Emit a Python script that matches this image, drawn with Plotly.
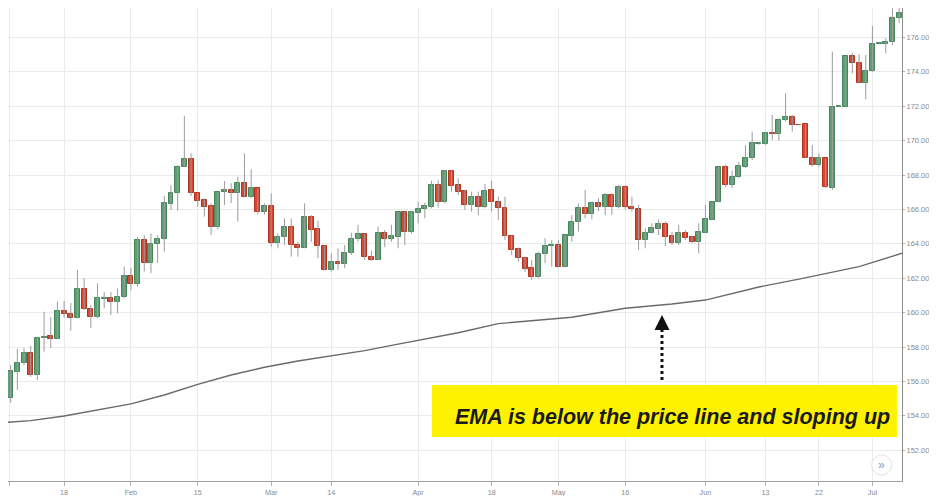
import plotly.graph_objects as go

# daily candles (price units)
OPEN = [155.40, 155.03, 156.56, 157.05, 157.67, 156.37, 158.50, 158.64, 158.48, 160.10,
        159.90, 159.67, 161.35, 160.20, 159.73, 160.80, 160.83, 160.60, 160.93, 162.10,
        161.65, 164.22, 162.90, 164.00, 164.26, 166.30, 166.93, 168.49, 168.91, 166.97,
        166.55, 166.20, 165.00, 167.04, 167.10, 166.97, 167.55, 166.70, 167.23, 165.87,
        166.20, 164.03, 164.41, 165.00, 163.93, 163.74, 165.54, 164.84, 163.87, 162.48,
        162.96, 162.83, 163.48, 164.26, 164.57, 163.25, 163.06, 164.61, 164.26, 164.38,
        165.87, 164.70, 165.82, 166.00, 166.16, 167.42, 166.45, 168.25, 167.42, 167.09,
        166.26, 166.70, 166.12, 167.13, 166.45, 166.06, 164.45, 163.68, 163.20, 162.58,
        162.06, 163.41, 163.87, 163.93, 162.63, 164.45, 165.29, 166.06, 165.73, 166.35,
        166.16, 166.84, 166.16, 167.32, 166.16, 166.00, 164.22, 164.65, 164.84, 165.16,
        164.45, 164.03, 164.65, 164.38, 164.12, 164.65, 165.38, 166.45, 168.45, 167.42,
        167.90, 168.49, 168.97, 169.80, 169.80, 170.46, 170.37, 171.20, 171.39, 170.93,
        170.97, 168.97, 168.58, 168.97, 167.23, 171.97, 171.97, 174.92, 174.50, 173.37,
        174.07, 175.62, 175.62, 175.75, 177.11]
HIGH = [155.70, 156.95, 157.90, 157.94, 158.06, 158.60, 160.05, 159.74, 160.63, 160.67,
        160.56, 162.47, 162.00, 160.44, 161.70, 161.20, 161.20, 161.40, 162.67, 162.60,
        164.40, 164.50, 164.60, 164.50, 166.78, 167.40, 168.58, 171.43, 169.26, 166.97,
        166.65, 166.35, 167.03, 167.65, 167.52, 167.90, 169.26, 168.33, 167.23, 166.35,
        166.93, 164.60, 165.48, 165.48, 164.12, 166.35, 165.67, 165.34, 163.90, 163.45,
        163.74, 163.93, 164.65, 165.10, 164.60, 163.60, 165.00, 164.80, 165.10, 165.87,
        165.90, 165.90, 166.45, 166.39, 167.67, 167.70, 168.29, 168.29, 167.81, 167.13,
        167.03, 167.03, 167.48, 167.67, 166.74, 166.74, 164.50, 163.80, 163.25, 163.06,
        163.54, 164.32, 164.22, 164.22, 164.51, 165.67, 166.35, 167.13, 166.45, 166.65,
        166.94, 166.94, 167.42, 167.42, 166.74, 166.26, 164.90, 165.19, 165.42, 165.29,
        164.70, 165.10, 164.80, 164.45, 165.19, 166.26, 166.45, 168.49, 168.60, 168.25,
        168.77, 169.74, 170.52, 169.90, 170.52, 171.49, 171.30, 172.75, 171.49, 170.95,
        170.97, 169.74, 169.26, 168.97, 175.17, 172.02, 174.92, 175.11, 175.03, 174.98,
        176.66, 175.72, 175.95, 177.69, 178.30]
LOW = [154.70, 154.75, 155.50, 156.95, 156.27, 156.08, 157.73, 157.94, 158.47, 159.70,
       158.95, 159.67, 160.15, 159.10, 159.67, 160.25, 159.86, 159.96, 160.83, 161.30,
       161.50, 162.40, 162.30, 162.90, 163.54, 165.97, 165.93, 168.45, 166.78, 166.16,
       165.58, 164.51, 164.84, 166.26, 166.36, 165.29, 166.70, 166.65, 165.70, 165.70,
       163.83, 163.74, 163.93, 163.25, 163.25, 163.74, 164.12, 163.16, 162.45, 162.38,
       162.48, 162.58, 163.35, 164.12, 163.06, 163.02, 163.06, 163.80, 164.12, 163.74,
       163.93, 164.60, 165.19, 165.48, 166.06, 166.10, 166.35, 167.03, 166.84, 165.97,
       165.87, 165.67, 166.06, 165.87, 165.38, 164.22, 163.35, 162.96, 162.36, 161.90,
       162.00, 162.87, 162.67, 162.63, 162.63, 164.12, 164.71, 165.48, 165.42, 165.90,
       165.67, 165.67, 166.06, 166.00, 165.87, 163.64, 163.74, 164.61, 164.51, 163.87,
       163.93, 163.93, 164.22, 164.03, 163.45, 164.61, 165.38, 166.40, 167.30, 167.23,
       167.81, 168.40, 168.87, 169.76, 169.74, 170.03, 170.00, 171.10, 170.52, 170.88,
       168.97, 168.49, 168.49, 167.23, 167.13, 171.95, 171.97, 173.91, 173.33, 172.40,
       174.00, 175.60, 175.07, 175.56, 176.82]
CLOSE = [155.03, 156.60, 157.05, 157.67, 156.37, 158.50, 158.60, 158.48, 160.10, 159.90,
         159.67, 161.35, 160.20, 159.73, 160.83, 160.86, 160.60, 160.93, 162.10, 161.65,
         164.22, 162.90, 164.00, 164.30, 166.35, 166.93, 168.49, 168.91, 166.94, 166.50,
         166.16, 165.00, 167.03, 167.10, 166.97, 167.55, 166.70, 167.23, 165.87, 166.20,
         164.03, 164.41, 165.00, 163.93, 163.74, 165.54, 164.81, 163.87, 162.48, 162.96,
         162.83, 163.48, 164.30, 164.57, 163.22, 163.06, 164.61, 164.26, 164.45, 165.87,
         164.70, 165.87, 166.00, 166.20, 167.42, 166.45, 168.25, 167.36, 167.03, 166.26,
         166.70, 166.12, 167.09, 166.45, 166.06, 164.45, 163.64, 163.16, 162.53, 162.06,
         163.41, 163.87, 163.93, 162.63, 164.51, 165.29, 166.06, 165.73, 166.35, 166.16,
         166.84, 166.16, 167.32, 166.12, 166.00, 164.22, 164.65, 164.94, 165.16, 164.41,
         164.03, 164.65, 164.32, 164.12, 164.70, 165.42, 166.45, 168.49, 167.42, 167.90,
         168.54, 169.00, 169.84, 169.87, 170.46, 170.37, 171.20, 171.39, 170.90, 170.90,
         168.97, 168.58, 168.97, 167.32, 171.97, 172.00, 174.92, 174.50, 173.37, 174.07,
         175.62, 175.70, 175.75, 177.11, 177.44]

# EMA read at a few candle positions along the line
EMA_IDX = [-1, 4, 9, 14, 19, 24, 29, 34, 39, 44, 49, 54, 59, 64, 68, 74, 80, 85, 93,
           100, 105, 113, 119, 128, 135]
EMA_VAL = [153.58, 153.72, 153.99, 154.34, 154.69, 155.21, 155.83, 156.37, 156.82, 157.19,
           157.48, 157.79, 158.17, 158.56, 158.83, 159.36, 159.58, 159.73, 160.25, 160.50,
           160.73, 161.49, 161.95, 162.67, 163.52]

TICK_IDX = [0.8, 9, 19, 29, 40, 49, 62, 73, 83, 93, 105, 114, 122, 130]
TICK_TEXT = ["16", "18", "Feb", "15", "Mar", "14", "Apr", "18", "May", "16", "Jun", "13", "22", "Jul"]
PRICE_TICKS = [152, 154, 156, 158, 160, 162, 164, 166, 168, 170, 172, 174, 176, 178]

NOTE = "EMA is below the price line and sloping up"
ARROW_IDX = 98.5
ARROW_FROM = 156.08
ARROW_TO = 159.86

GREEN, GREEN_EDGE = "#5c9f74", "#44855a"
RED, RED_EDGE = "#da4631", "#b0341f"

idx = list(range(len(OPEN)))
rising = [c >= o for o, c in zip(OPEN, CLOSE)]

# wicks drawn as one broken line
wick_x, wick_y = [], []
for i, h, l in zip(idx, HIGH, LOW):
    wick_x += [i, i, None]
    wick_y += [l, h, None]

fig = go.Figure()
fig.add_trace(go.Scatter(x=wick_x, y=wick_y, mode="lines",
                         line=dict(color="#9c9c9c", width=1), hoverinfo="skip"))
fig.add_trace(go.Bar(
    x=idx,
    base=[min(o, c) for o, c in zip(OPEN, CLOSE)],
    y=[abs(c - o) for o, c in zip(OPEN, CLOSE)],
    width=0.74,
    marker=dict(color=[GREEN if r else RED for r in rising],
                line=dict(color=[GREEN_EDGE if r else RED_EDGE for r in rising], width=1)),
    hoverinfo="skip",
))
fig.add_trace(go.Scatter(x=EMA_IDX, y=EMA_VAL, mode="lines",
                         line=dict(color="#6a6a6a", width=1.4), hoverinfo="skip"))

# dotted pointer to the EMA
fig.add_shape(type="line", xref="x", yref="y", x0=ARROW_IDX, x1=ARROW_IDX,
              y0=ARROW_FROM, y1=ARROW_TO - 0.45,
              line=dict(color="#111111", width=3, dash="dot"))
fig.add_annotation(x=ARROW_IDX, y=ARROW_TO, ax=ARROW_IDX, ay=ARROW_TO - 0.5,
                   xref="x", yref="y", axref="x", ayref="y", text="",
                   showarrow=True, arrowhead=2, arrowsize=1, arrowwidth=3, arrowcolor="#111111")

# yellow call-out
fig.add_shape(type="rect", xref="paper", yref="paper", x0=0.4743, x1=0.9944, y0=0.0930, y1=0.2030,
              fillcolor="#fff200", line=dict(width=0), layer="above")
fig.add_annotation(xref="paper", yref="paper", x=0.4978, y=0.1353, xanchor="left", yanchor="middle",
                   text="<b><i>" + NOTE + "</i></b>", showarrow=False,
                   font=dict(family="Liberation Sans, Arial, sans-serif", size=21.5, color="#1a1a1a"))

# little scroll button bottom right
fig.add_shape(type="circle", xref="paper", yref="paper", x0=0.9661, x1=0.9885, y0=0.0127, y1=0.0550,
              fillcolor="white", line=dict(color="#e2e2e2", width=1), layer="above")
fig.add_annotation(xref="paper", yref="paper", x=0.9773, y=0.0338, xanchor="center", yanchor="middle",
                   text="»", showarrow=False,
                   font=dict(family="Liberation Sans, Arial", size=12, color="#7f9fc0"))

x_font = dict(family="Liberation Sans, Arial, sans-serif", size=7.2, color="#8a8a8a")
y_font = dict(family="Liberation Sans Narrow, Arial Narrow, Liberation Sans, sans-serif",
              size=7.5, color="#8a8a8a")
# the page adds an 8px body margin, so the figure is 8px smaller than the window
fig.update_layout(
    width=929, height=488,
    margin=dict(l=0, r=35, t=0, b=15),
    paper_bgcolor="white", plot_bgcolor="white",
    showlegend=False, barmode="overlay", bargap=0,
    xaxis=dict(range=[0.6, 134.43], tickmode="array", tickvals=TICK_IDX, ticktext=TICK_TEXT,
               showgrid=True, gridcolor="#ebebeb", gridwidth=1, zeroline=False,
               showline=True, linecolor="#a0a0a0", linewidth=1,
               ticks="outside", ticklen=4, tickcolor="#b0b0b0", tickfont=x_font),
    yaxis=dict(range=[150.21, 177.71], side="right", tickmode="array", tickvals=PRICE_TICKS,
               tickformat=".3f", showgrid=True, gridcolor="#ebebeb", gridwidth=1, zeroline=False,
               showline=True, linecolor="#8c8c8c", linewidth=1,
               ticks="outside", ticklen=2, tickcolor="#b0b0b0", tickfont=y_font),
)

fig.write_html("out.html")
